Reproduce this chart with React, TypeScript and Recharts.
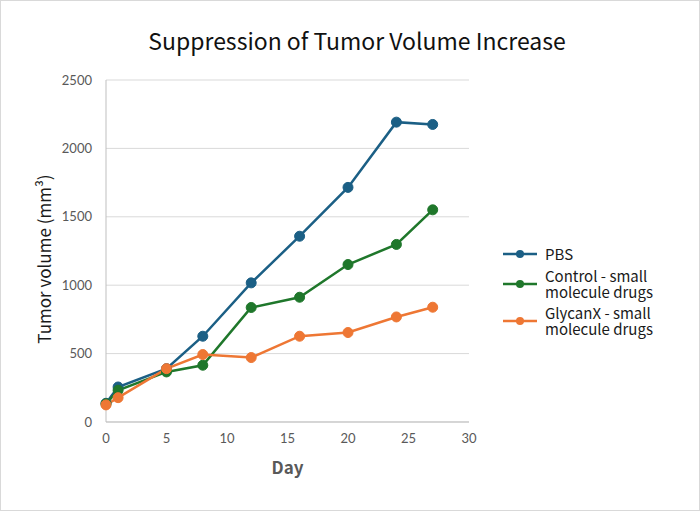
import { LineChart, Line, XAxis, YAxis, CartesianGrid } from "recharts";

// days of measurement
const days = [0, 1, 5, 8, 12, 16, 20, 24, 27];

// tumor volume (mm3) per group
const pbs = [137, 256, 390, 627, 1017, 1358, 1715, 2192, 2175];
const control = [133, 232, 366, 415, 837, 912, 1151, 1298, 1551];
const glycanx = [125, 178, 390, 493, 471, 627, 654, 768, 839];

const xTicks = [0, 5, 10, 15, 20, 25, 30];
const yTicks = [0, 500, 1000, 1500, 2000, 2500];

const series = [
  { key: "pbs", name: "PBS", color: "#1b5f85" },
  { key: "control", name: "Control - small molecule drugs", color: "#1f772b" },
  { key: "glycanx", name: "GlycanX - small molecule drugs", color: "#ee7734" },
];

const legendLines = [["PBS"], ["Control - small", "molecule drugs"], ["GlycanX - small", "molecule drugs"]];

const data = days.map((d, i) => ({
  day: d,
  pbs: pbs[i],
  control: control[i],
  glycanx: glycanx[i],
}));

const tickStyle = { fill: "#595959", fontSize: 13, fontFamily: "Lato, sans-serif" };
const cjk = '"Noto Sans CJK JP", "Noto Sans", sans-serif';

const LegendBox = () => (
  <div
    style={{
      position: "absolute",
      left: 503,
      top: 246,
      fontFamily: cjk,
      fontSize: 15,
      color: "#1a1a1a",
      lineHeight: "16px",
    }}
  >
    {series.map((s, i) => (
      <div key={s.key} style={{ display: "flex", alignItems: "center", marginBottom: 5.5 }}>
        <svg width={42} height={12} style={{ flex: "none" }}>
          <line x1={0} y1={6} x2={34} y2={6} stroke={s.color} strokeWidth={2.5} />
          <circle cx={17} cy={6} r={4} fill={s.color} />
        </svg>
        <div>
          {legendLines[i].map((t) => (
            <div key={t}>{t}</div>
          ))}
        </div>
      </div>
    ))}
  </div>
);

const YLabel = (props: any) => {
  const vb = props.viewBox || {};
  const cx = 43;
  const cy = vb.y + vb.height / 2 + 8;
  return (
    <text
      x={cx}
      y={cy}
      transform={`rotate(-90 ${cx} ${cy})`}
      textAnchor="middle"
      dominantBaseline="central"
      fill="#1a1a1a"
      fontSize={17}
      fontFamily={cjk}
    >
      Tumor volume (mm³)
    </text>
  );
};

export default function App() {
  return (
    <div style={{ position: "relative", width: 700, height: 511, background: "#fff" }}>
      <style>{`body{margin:0}`}</style>
      <div
        style={{
          position: "absolute",
          top: 23,
          left: 0,
          width: 714,
          textAlign: "center",
          fontFamily: cjk,
          fontSize: 23,
          color: "#111",
        }}
      >
        Suppression of Tumor Volume Increase
      </div>
      <LineChart
        width={700}
        height={511}
        data={data}
        margin={{ top: 80, right: 231, bottom: 59, left: 46 }}
      >
        <CartesianGrid vertical={false} stroke="#d9d9d9" />
        <XAxis
          dataKey="day"
          type="number"
          domain={[0, 30]}
          ticks={xTicks}
          height={30}
          tickLine={false}
          tickMargin={6}
          axisLine={{ stroke: "#bfbfbf" }}
          tick={tickStyle}
          label={{
            value: "Day",
            position: "bottom",
            offset: 10,
            style: { fill: "#595959", fontSize: 17, fontWeight: 600, fontFamily: cjk },
          }}
        />
        <YAxis
          type="number"
          domain={[0, 2500]}
          ticks={yTicks}
          width={60}
          tickLine={false}
          tickMargin={8}
          axisLine={{ stroke: "#bfbfbf" }}
          tick={tickStyle}
          label={{ content: YLabel }}
        />
        {series.map((s) => (
          <Line
            key={s.key}
            dataKey={s.key}
            name={s.name}
            stroke={s.color}
            strokeWidth={2.5}
            dot={{ r: 5, fill: s.color, stroke: s.color, strokeWidth: 1 }}
            activeDot={false}
            isAnimationActive={false}
          />
        ))}
      </LineChart>
      <LegendBox />
      <div
        style={{
          position: "absolute",
          inset: 0,
          border: "1px solid #d9d9d9",
          pointerEvents: "none",
        }}
      />
    </div>
  );
}
